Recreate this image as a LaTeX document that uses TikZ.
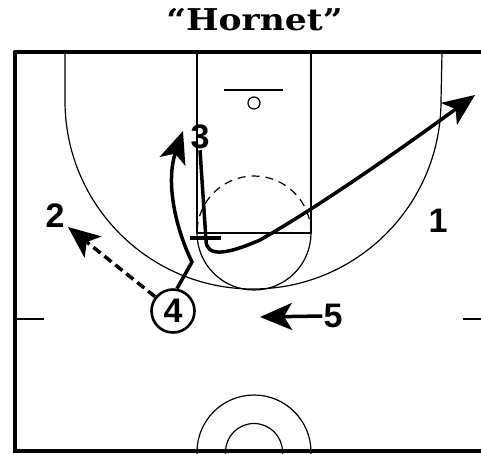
\documentclass[tikz,border=0pt]{standalone}
\usepackage{fontspec}
\setmainfont{Liberation Sans}
\newfontfamily\titlefont{DejaVu Serif}
\usetikzlibrary{arrows.meta}

\tikzset{
  court/.style={line width=1.2pt},
  move/.style={line width=3.5pt},
  player/.style={font=\fontsize{34}{34}\selectfont\bfseries,inner sep=1pt},
}

\begin{document}
\begin{tikzpicture}[x=1pt,y=-1pt,>={Stealth[length=32pt,width=27pt,inset=8pt]},line join=round]
\useasboundingbox (0,0) rectangle (481,453);
% title
\node[font=\titlefont\bfseries\fontsize{30}{30}\selectfont,anchor=base,xscale=1.15] (title) at (254.5,30) {“Hornet”};
% court
\draw[line width=4.5pt] (15,453) -- (15,52) -- (481,52);
\draw[line width=4pt] (15,451) -- (481,451);
\draw[court] (197,52) -- (197,233) -- (311,233) -- (311,52);
\draw[court] (224,90) -- (283,90);
\draw[court] (254,103) circle (6);
\draw[court] (65,52) -- (65,101) arc[start angle=180,end angle=0,radius=188] -- (442,52);
\draw[court] (197,233) arc[start angle=180,end angle=0,radius=57];
\draw[court,dash pattern=on 8pt off 6pt] (311,233) arc[start angle=0,end angle=-180,radius=57];
\draw[court] (15,319) -- (44,319);
\draw[court] (463,319) -- (481,319);
\draw[court] (254,452) circle (57);
\draw[court] (254,452) circle (28.5);
% players
\node[player] (p1) at (438,221) {1};
\node[player] (p2) at (55,216) {2};
\node[player] (p3) at (200,137) {3};
\node[player,circle,draw,line width=2.6pt,minimum size=43pt,inner sep=0pt] (p4) at (173,311) {4};
\node[player] (p5) at (333,316) {5};
% moves
\coordinate (passend) at (68,227);
\coordinate (cutend) at (183,131);
\coordinate (popend) at (475,95);
\coordinate (fillend) at (260,317);
\draw[move,->,dash pattern=on 9pt off 5pt] (p4) -- (passend);
\draw[move,->] (p4.80) -- (192,262) .. controls (174,225) and (166,180) .. (cutend);
\draw[move,->] (p3.south) -- (206,240) .. controls (206,258) and (228,254) .. (260,240)
  .. controls (330,200) and (420,135) .. (popend);
\draw[move] (190,238) -- (221,238);
\draw[move,->] (p5.west) -- (fillend);
\end{tikzpicture}
\end{document}
